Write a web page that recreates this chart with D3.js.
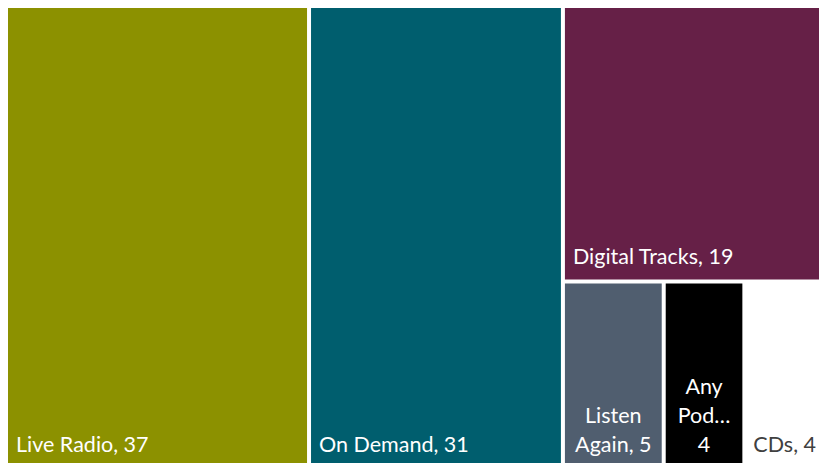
<!DOCTYPE html>
<html>
<head>
<meta charset="utf-8">
<script src="https://cdn.jsdelivr.net/npm/d3@7"></script>
<style>
  html, body { margin: 0; padding: 0; background: #fff; overflow: hidden; }
  svg { display: block; }
</style>
</head>
<body>
<div id="chart"></div>
<script>
// values
const categories = ['Live Radio', 'On Demand', 'Digital Tracks', 'Listen Again', 'Any Pod\u2026', 'CDs'];
const values = [37, 31, 19, 5, 4, 4];
const colors = ['#8c9100', '#005e6e', '#662047', '#505e6f', '#000000', '#ffffff'];
const textColors = ['#ffffff', '#ffffff', '#ffffff', '#ffffff', '#ffffff', '#404040'];

let width = 819, height = 463;
let margin = {top: 8, left: 8};
let plotW = 815, plotH = 460; // the treemap runs past the bottom/right edge

// nest the items the way the picture lays them out:
// two big columns, then a column with Digital Tracks over the small ones
let leaf = i => ({name: categories[i], value: values[i], idx: i});
let rootData = {children: [
    leaf(0),
    leaf(1),
    {children: [leaf(2), {children: [leaf(3), leaf(4), leaf(5)]}]}
]};

let root = d3.hierarchy(rootData).sum(d => d.value || 0);
d3.treemap()
    .tile(d3.treemapSliceDice)
    .size([plotW, plotH])
    .paddingInner(4)
    .round(false)(root);

let svg = d3.select('#chart')
  .append('svg')
    .attr('width', width)
    .attr('height', height)
  .append('g')
    .attr('transform', 'translate(' + margin.left + ',' + margin.top + ')');

let cell = svg.selectAll('g.cell')
  .data(root.leaves())
  .enter()
  .append('g')
    .attr('class', 'cell');

cell.append('rect')
    .attr('x', d => d.x0)
    .attr('y', d => d.y0)
    .attr('width', d => d.x1 - d.x0)
    .attr('height', d => d.y1 - d.y0)
    .attr('fill', d => colors[d.data.idx]);

let font = 'Lato, "Open Sans", sans-serif';
let fontSize = 21.5, lineH = 29, pad = 8;
let measure = svg.append('text')
    .style('font-family', font)
    .style('font-size', fontSize + 'px');
let textW = s => { measure.text(s); return measure.node().getComputedTextLength(); };

cell.each(function(d) {
    let g = d3.select(this);
    let boxW = d.x1 - d.x0;
    let full = d.data.name + ', ' + d.data.value;
    let lines, anchor, tx;
    if (textW(full) <= boxW - 2 * pad) {
        lines = [full];
        anchor = 'start';
        tx = d.x0 + pad;
    } else {
        // wrap: one word per line, value joins the last word if it fits
        lines = d.data.name.split(' ');
        let last = lines[lines.length - 1] + ', ' + d.data.value;
        if (textW(last) <= boxW - 8) lines[lines.length - 1] = last;
        else lines.push(String(d.data.value));
        anchor = 'middle';
        tx = (d.x0 + d.x1) / 2;
    }
    let baseY = d.y1 - 16; // baseline of the last line
    let t = g.append('text')
        .attr('text-anchor', anchor)
        .style('font-family', font)
        .style('font-size', fontSize + 'px')
        .attr('fill', textColors[d.data.idx]);
    lines.forEach((l, i) => {
        t.append('tspan')
            .attr('x', tx)
            .attr('y', baseY - (lines.length - 1 - i) * lineH)
            .text(l);
    });
});
measure.remove();
</script>
</body>
</html>
